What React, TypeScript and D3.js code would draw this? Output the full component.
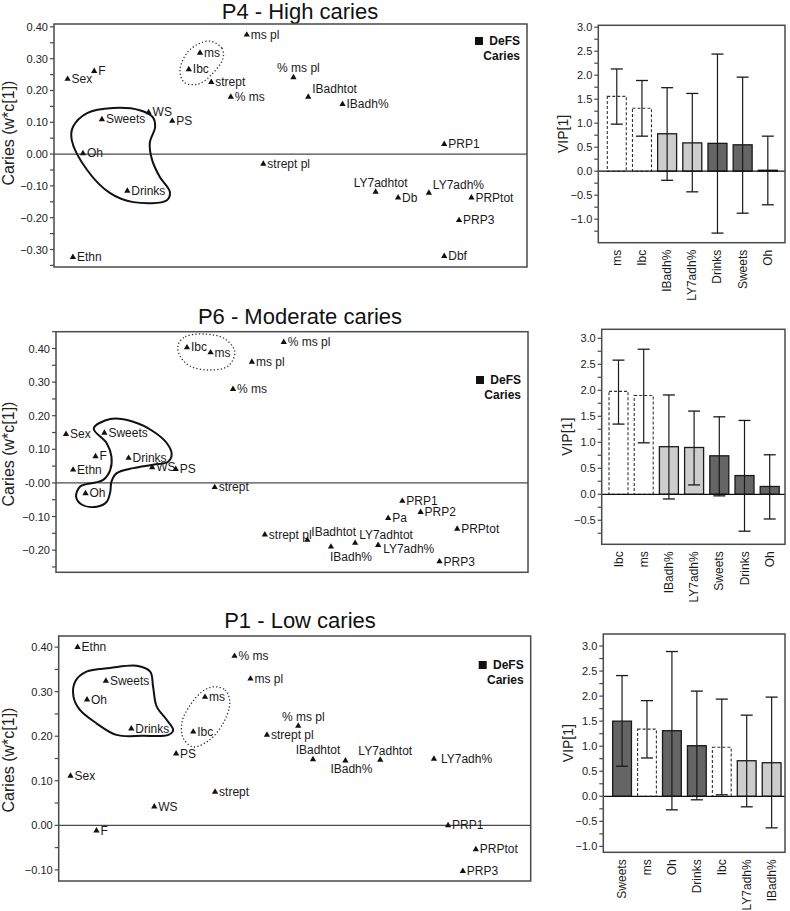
import React from "react";
import * as d3 from "d3";

const FONT = "'Liberation Sans', Arial, Helvetica, sans-serif";

// ---------- Scatter (loading) data ----------
const p4Vars = ["Sex", "F", "Sweets", "WS", "PS", "Oh", "Drinks", "Ethn", "ms", "Ibc", "strept", "% ms", "ms pl", "% ms pl", "strept pl", "IBadhtot", "IBadh%", "PRP1", "LY7adhtot", "Db", "LY7adh%", "PRPtot", "PRP3", "Dbf"];
const p4X = [-0.277, -0.232, -0.219, -0.14, -0.1, -0.251, -0.176, -0.268, -0.053, -0.072, -0.034, -0.001, 0.026, 0.105, 0.054, 0.13, 0.188, 0.36, 0.244, 0.282, 0.334, 0.406, 0.385, 0.36];
const p4Y = [0.236, 0.261, 0.109, 0.131, 0.104, 0.002, -0.116, -0.324, 0.318, 0.266, 0.226, 0.18, 0.375, 0.241, -0.031, 0.18, 0.157, 0.031, -0.119, -0.137, -0.122, -0.137, -0.208, -0.321];

const p6Vars = ["Ibc", "ms", "% ms pl", "ms pl", "% ms", "Sex", "Sweets", "F", "Drinks", "Ethn", "WS", "PS", "Oh", "strept", "strept pl", "PRP1", "PRP2", "Pa", "PRPtot", "IBadhtot", "IBadh%", "LY7adhtot", "LY7adh%", "PRP3"];
const p6X = [-0.078, -0.038, 0.086, 0.032, 0.0, -0.283, -0.218, -0.233, -0.177, -0.271, -0.137, -0.097, -0.25, -0.031, 0.054, 0.287, 0.318, 0.263, 0.38, 0.126, 0.166, 0.207, 0.246, 0.35];
const p6Y = [0.403, 0.388, 0.419, 0.36, 0.279, 0.145, 0.149, 0.079, 0.074, 0.039, 0.046, 0.041, -0.031, -0.013, -0.154, -0.054, -0.087, -0.105, -0.137, -0.17, -0.19, -0.179, -0.185, -0.234];

const p1Vars = ["Ethn", "% ms", "Sweets", "ms pl", "Oh", "ms", "Drinks", "Ibc", "strept pl", "PS", "Sex", "strept", "WS", "F", "% ms pl", "IBadhtot", "IBadh%", "LY7adhtot", "LY7adh%", "PRP1", "PRPtot", "PRP3"];
const p1X = [-0.268, -0.002, -0.22, 0.025, -0.252, -0.052, -0.177, -0.072, 0.053, -0.101, -0.28, -0.035, -0.138, -0.236, 0.106, 0.131, 0.186, 0.245, 0.336, 0.36, 0.407, 0.385];
const p1Y = [0.4, 0.38, 0.324, 0.329, 0.282, 0.288, 0.217, 0.21, 0.203, 0.161, 0.111, 0.075, 0.042, -0.012, 0.223, 0.148, 0.145, 0.147, 0.149, 0.0, -0.054, -0.103];

// ---------- Annotation outlines (data units) ----------
const p4Blob = [[-0.244, 0.129], [-0.2, 0.145], [-0.155, 0.138], [-0.133, 0.116], [-0.129, 0.085], [-0.138, 0.035], [-0.134, -0.019], [-0.121, -0.072], [-0.104, -0.119], [-0.109, -0.145], [-0.166, -0.151], [-0.205, -0.123], [-0.244, -0.05], [-0.27, 0.044], [-0.268, 0.085]];
const p4Ellipse = [[-0.036, 0.355], [-0.016, 0.333], [-0.014, 0.302], [-0.031, 0.255], [-0.056, 0.22], [-0.08, 0.226], [-0.087, 0.264], [-0.075, 0.318], [-0.056, 0.346]];
const p6Blob = [[-0.236, 0.162], [-0.208, 0.19], [-0.169, 0.182], [-0.135, 0.153], [-0.112, 0.118], [-0.104, 0.086], [-0.11, 0.063], [-0.135, 0.054], [-0.169, 0.044], [-0.197, 0.029], [-0.206, 0.004], [-0.208, -0.026], [-0.214, -0.056], [-0.231, -0.071], [-0.256, -0.065], [-0.266, -0.041], [-0.259, -0.011], [-0.234, 0.001], [-0.22, 0.009], [-0.208, 0.039], [-0.206, 0.078], [-0.214, 0.118]];
const p6Ellipse = [[-0.093, 0.411], [-0.081, 0.435], [-0.047, 0.443], [-0.014, 0.429], [0.003, 0.39], [-0.008, 0.348], [-0.039, 0.336], [-0.073, 0.348], [-0.09, 0.378]];
const p1Blob = [[-0.272, 0.323], [-0.253, 0.345], [-0.213, 0.353], [-0.168, 0.358], [-0.145, 0.345], [-0.14, 0.311], [-0.134, 0.267], [-0.117, 0.237], [-0.106, 0.214], [-0.114, 0.203], [-0.157, 0.201], [-0.202, 0.203], [-0.236, 0.229], [-0.264, 0.259], [-0.275, 0.289]];
const p1Ellipse = [[-0.038, 0.311], [-0.018, 0.304], [-0.01, 0.277], [-0.02, 0.232], [-0.044, 0.192], [-0.072, 0.176], [-0.089, 0.196], [-0.091, 0.232], [-0.077, 0.27], [-0.057, 0.3]];

// ---------- VIP bar data ----------
const p4BarCats = ["ms", "Ibc", "IBadh%", "LY7adh%", "Drinks", "Sweets", "Oh"];
const p4Vip = [1.56, 1.31, 0.78, 0.59, 0.58, 0.55, 0.02];
const p4VipLow = [0.98, 0.73, -0.19, -0.43, -1.29, -0.875, -0.7];
const p4VipHigh = [2.13, 1.89, 1.74, 1.62, 2.44, 1.96, 0.73];

const p6BarCats = ["Ibc", "ms", "IBadh%", "LY7adh%", "Sweets", "Drinks", "Oh"];
const p6Vip = [1.98, 1.9, 0.915, 0.9, 0.74, 0.36, 0.15];
const p6VipLow = [1.35, 0.99, -0.09, 0.18, -0.03, -0.71, -0.475];
const p6VipHigh = [2.58, 2.79, 1.91, 1.6, 1.49, 1.42, 0.76];

const p1BarCats = ["Sweets", "ms", "Oh", "Drinks", "Ibc", "LY7adh%", "IBadh%"];
const p1Vip = [1.5, 1.34, 1.31, 1.01, 0.98, 0.71, 0.67];
const p1VipLow = [0.6, 0.765, -0.27, -0.07, 0.03, -0.21, -0.63];
const p1VipHigh = [2.41, 1.91, 2.89, 2.1, 1.94, 1.62, 1.98];

// ---------- styles ----------
const barStyle: Record<string, { fill: string; dash?: string }> = {
  ms: { fill: "#ffffff", dash: "3,2" },
  Ibc: { fill: "#ffffff", dash: "3,2" },
  "IBadh%": { fill: "#cdcdcd" },
  "LY7adh%": { fill: "#cdcdcd" },
  Sweets: { fill: "#656565" },
  Drinks: { fill: "#656565" },
  Oh: { fill: "#656565" },
};

const placements: Record<string, { dx: number; dy: number; anchor: string }> = {
  right: { dx: 4, dy: 4, anchor: "start" },
  rightWide: { dx: 7, dy: 4, anchor: "start" },
  above: { dx: 5, dy: -5, anchor: "middle" },
  upRight: { dx: 4, dy: -4, anchor: "start" },
  downRight: { dx: 5, dy: 8, anchor: "start" },
  below: { dx: 6, dy: 12, anchor: "middle" },
  belowStart: { dx: -1, dy: 14, anchor: "start" },
};

const p4Place: Record<string, string> = { "% ms pl": "above", IBadhtot: "upRight", LY7adhtot: "above", "LY7adh%": "upRight" };
const p6Place: Record<string, string> = { IBadhtot: "upRight", "IBadh%": "belowStart", LY7adhtot: "upRight", "LY7adh%": "downRight" };
const p1Place: Record<string, string> = { "% ms pl": "above", IBadhtot: "above", "IBadh%": "below", LY7adhtot: "above", "LY7adh%": "rightWide" };

const FRAME = "#4a4a4a";

function Scatter(props: any) {
  const { vars, xs, ys, l, r, t, b, yDomain, zeroLabel, place, blob, ellipse, title, titleY, legendY, axisTitleY } = props;
  const x = d3.scaleLinear().domain([-0.3, 0.5]).range([l, r]);
  const y = d3.scaleLinear().domain(yDomain).range([b, t]);
  const ks = d3.range(Math.ceil(yDomain[0] * 20 - 1e-9), Math.floor(yDomain[1] * 20 + 1e-9) + 1);
  const fmt = d3.format(".2f");
  const tri = d3.symbol(d3.symbolTriangle, 17)() as string;
  const line = d3
    .line<number[]>()
    .x((d) => x(d[0]))
    .y((d) => y(d[1]))
    .curve(d3.curveCatmullRomClosed.alpha(0.5));
  return (
    <g>
      <text x={300} y={titleY} textAnchor="middle" fontSize={22} fontFamily={FONT} fill="#111">{title}</text>
      <text transform={`translate(14,${axisTitleY}) rotate(-90)`} textAnchor="middle" fontSize={16} fontFamily={FONT} fill="#222">Caries (w*c[1])</text>
      <rect x={l} y={t} width={r - l} height={b - t} fill="none" stroke={FRAME} strokeWidth={1.5} />
      <line x1={l} x2={r} y1={y(0)} y2={y(0)} stroke={FRAME} strokeWidth={1.3} />
      {ks.map((k) => (
        <line key={"t" + k} x1={l - 4} x2={l} y1={y(k / 20)} y2={y(k / 20)} stroke={FRAME} strokeWidth={1.2} />
      ))}
      {ks.filter((k) => k % 2 === 0).map((k) => (
        <text key={"l" + k} x={l - 6} y={y(k / 20) + 4} textAnchor="end" fontSize={11} fontFamily={FONT} fill="#222">
          {k === 0 ? zeroLabel : fmt(k / 20)}
        </text>
      ))}
      <path d={line(blob) || ""} fill="none" stroke="#111" strokeWidth={2} />
      <path d={line(ellipse) || ""} fill="none" stroke="#333" strokeWidth={1.3} strokeDasharray="1.3,2.2" />
      {vars.map((v: string, i: number) => {
        const p = placements[place[v] || "right"];
        return (
          <g key={v} transform={`translate(${x(xs[i])},${y(ys[i])})`}>
            <path d={tri} fill="#111" />
            <text x={p.dx} y={p.dy} textAnchor={p.anchor} fontSize={12} fontFamily={FONT} fill="#1a1a1a">{v}</text>
          </g>
        );
      })}
      <rect x={r - 52} y={legendY - 8} width={8} height={8} fill="#111" />
      <text x={r - 7} y={legendY} textAnchor="end" fontSize={12} fontWeight="bold" fontFamily={FONT} fill="#111">DeFS</text>
      <text x={r - 7} y={legendY + 14.5} textAnchor="end" fontSize={12} fontWeight="bold" fontFamily={FONT} fill="#111">Caries</text>
    </g>
  );
}

function Bars(props: any) {
  const { cats, vip, lo, hi, l, r, t, b, bandL, bandR, yDomain } = props;
  const x = d3.scaleBand<string>().domain(cats).range([bandL, bandR]).paddingInner(0.246).paddingOuter(0.123);
  const y = d3.scaleLinear().domain(yDomain).range([b, t]);
  const ks = d3.range(Math.ceil(yDomain[0] * 4 - 1e-9), Math.floor(yDomain[1] * 4 + 1e-9) + 1);
  const fmt = d3.format(".1f");
  const bw = x.bandwidth();
  return (
    <g>
      <text transform={`translate(${l - 30},${(t + b) / 2}) rotate(-90)`} textAnchor="middle" fontSize={14} fontFamily={FONT} fill="#222">VIP[1]</text>
      {ks.map((k) => (
        <line key={"t" + k} x1={l - 4} x2={l} y1={y(k / 4)} y2={y(k / 4)} stroke={FRAME} strokeWidth={1.2} />
      ))}
      {ks.filter((k) => k % 2 === 0).map((k) => (
        <text key={"l" + k} x={l - 6} y={y(k / 4) + 4} textAnchor="end" fontSize={11} fontFamily={FONT} fill="#222">{fmt(k / 4)}</text>
      ))}
      {cats.map((c: string, i: number) => {
        const st = barStyle[c];
        const x0 = x(c) as number;
        const y0 = y(Math.max(0, vip[i]));
        const h = Math.abs(y(vip[i]) - y(0));
        const cx = x0 + bw / 2;
        return (
          <g key={c}>
            <rect x={x0} y={y0} width={bw} height={h} fill={st.fill} stroke={st.dash ? "#333" : "#1a1a1a"} strokeWidth={st.dash ? 1.1 : 1.3} strokeDasharray={st.dash} />
            <line x1={cx} x2={cx} y1={y(hi[i])} y2={y(lo[i])} stroke="#1a1a1a" strokeWidth={1.2} />
            <line x1={cx - 6} x2={cx + 6} y1={y(hi[i])} y2={y(hi[i])} stroke="#1a1a1a" strokeWidth={1.3} />
            <line x1={cx - 6} x2={cx + 6} y1={y(lo[i])} y2={y(lo[i])} stroke="#1a1a1a" strokeWidth={1.3} />
            <text transform={`translate(${cx + 4},${b + 7}) rotate(-90)`} textAnchor="end" fontSize={12} fontFamily={FONT} fill="#1a1a1a">{c}</text>
          </g>
        );
      })}
      <line x1={l} x2={r} y1={y(0)} y2={y(0)} stroke="#111" strokeWidth={1.3} />
      <rect x={l} y={t} width={r - l} height={b - t} fill="none" stroke={FRAME} strokeWidth={1.5} />
    </g>
  );
}

export default function App() {
  return (
    <svg width={790} height={911} viewBox="0 0 790 911" style={{ position: "absolute", left: 0, top: 0, background: "#fff" }}>
      <rect width={790} height={911} fill="#fff" />
      <Scatter vars={p4Vars} xs={p4X} ys={p4Y} l={54} r={527} t={24} b={267} yDomain={[-0.355, 0.409]} zeroLabel="0.00" place={p4Place} blob={p4Blob} ellipse={p4Ellipse} title="P4 - High caries" titleY={18.5} legendY={45} axisTitleY={133} />
      <Scatter vars={p6Vars} xs={p6X} ys={p6Y} l={56} r={528} t={331.7} b={572.3} yDomain={[-0.266, 0.45]} zeroLabel="-0.00" place={p6Place} blob={p6Blob} ellipse={p6Ellipse} title="P6 - Moderate caries" titleY={324} legendY={384} axisTitleY={454} />
      <Scatter vars={p1Vars} xs={p1X} ys={p1Y} l={58.7} r={530.7} t={636} b={881} yDomain={[-0.125, 0.425]} zeroLabel="0.00" place={p1Place} blob={p1Blob} ellipse={p1Ellipse} title="P1 - Low caries" titleY={627.5} legendY={669} axisTitleY={760} />
      <Bars cats={p4BarCats} vip={p4Vip} lo={p4VipLow} hi={p4VipHigh} l={598.3} r={785} t={25.3} b={242.7} bandL={604.2} bandR={780.4} yDomain={[-1.49, 3.04]} />
      <Bars cats={p6BarCats} vip={p6Vip} lo={p6VipLow} hi={p6VipHigh} l={601.7} r={785} t={329.3} b={544.3} bandL={605.9} bandR={782.3} yDomain={[-0.962, 3.173]} />
      <Bars cats={p1BarCats} vip={p1Vip} lo={p1VipLow} hi={p1VipHigh} l={603.3} r={785} t={634} b={852.3} bandL={609.6} bandR={784.1} yDomain={[-1.118, 3.24]} />
    </svg>
  );
}
